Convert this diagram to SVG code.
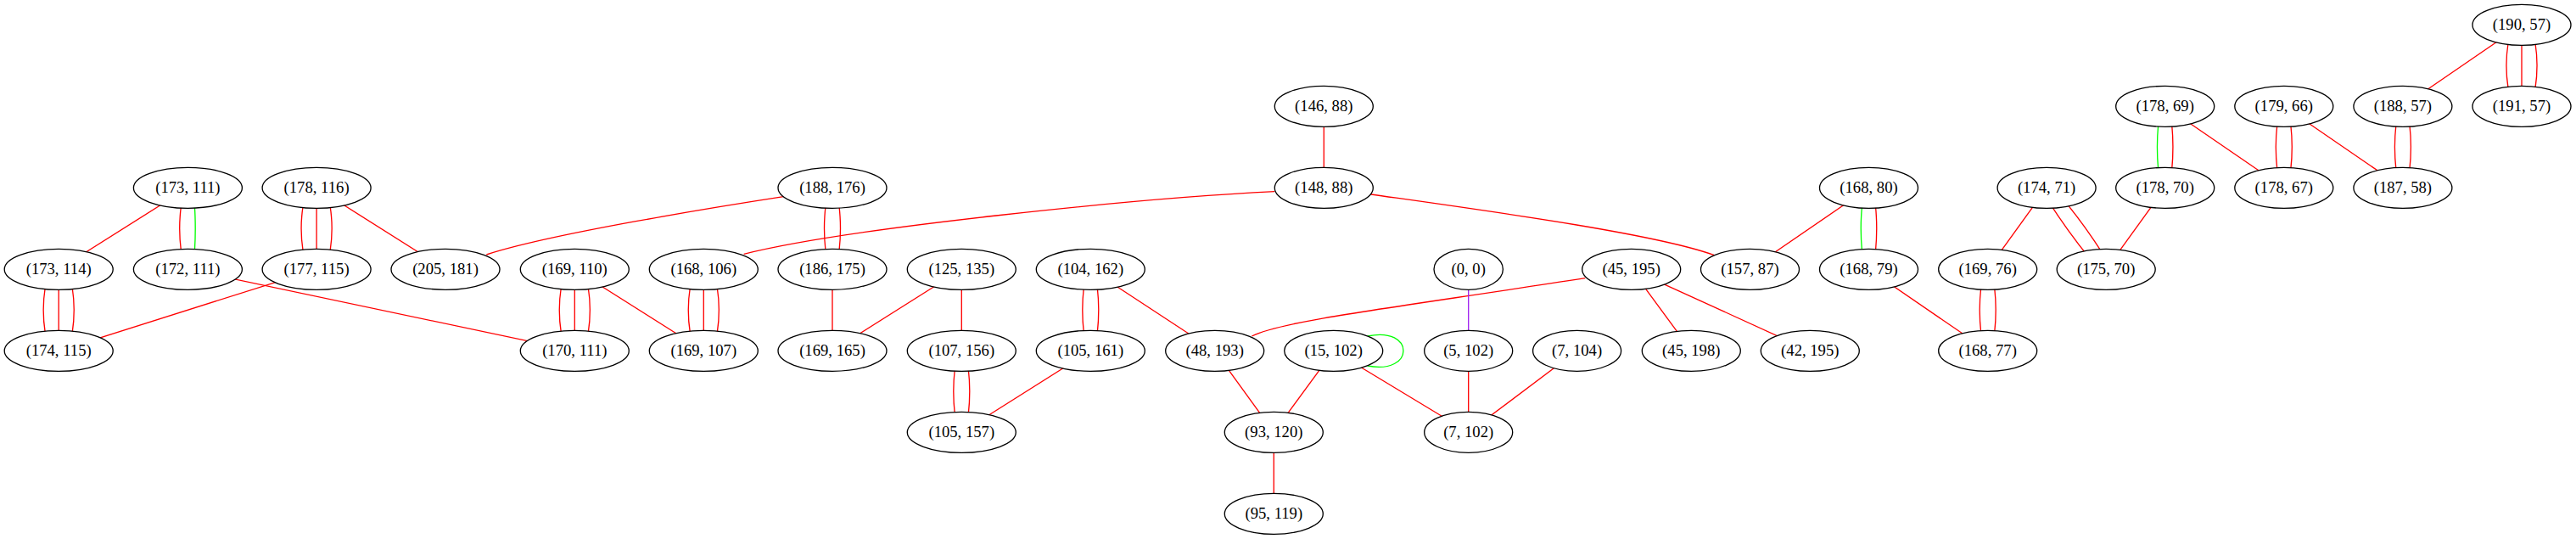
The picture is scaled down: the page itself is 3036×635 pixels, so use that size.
<svg xmlns="http://www.w3.org/2000/svg" width="3036" height="635" viewBox="0 0 3036 635">
<style>
.node ellipse{fill:#fff;stroke:#000;stroke-width:1.33}
.node text{font-family:"Liberation Serif","Times New Roman",serif;font-size:18.67px;text-anchor:middle;fill:#000}
#edges path,#edges line{fill:none;stroke:#f00;stroke-width:1.33}
#edges .g{stroke:#0f0}
#edges .p{stroke:#a020f0}
</style>
<rect width="3036" height="635" fill="#fff"/>
<g id="edges">
<line x1="221.4" y1="221.3" x2="69.2" y2="317.3"/>
<path d="M213.4,243 Q210,269.3 213.4,295.6"/>
<path class="g" d="M229.4,243 Q231,269.3 229.4,295.6"/>
<line x1="373.1" y1="221.3" x2="373.1" y2="317.3"/>
<path d="M357.1,243 Q353,269.3 357.1,295.6"/>
<path d="M389.1,243 Q393.2,269.3 389.1,295.6"/>
<line x1="373.1" y1="221.3" x2="525" y2="317.3"/>
<line x1="69.2" y1="317.3" x2="69.2" y2="413.3"/>
<path d="M53.2,339 Q49.1,365.3 53.2,391.6"/>
<path d="M85.2,339 Q89.3,365.3 85.2,391.6"/>
<line x1="221.4" y1="317.3" x2="677.3" y2="413.3"/>
<line x1="373.1" y1="317.3" x2="69.2" y2="413.3"/>
<path d="M923.3,231.7 C850,243 650,275 573.3,300"/>
<path d="M973,243 Q970,269.3 973,295.6"/>
<path d="M989,243 Q992,269.3 989,295.6"/>
<path d="M1502.2,225.7 C1350,233 1000,268 876.7,299.3"/>
<line x1="677.3" y1="317.3" x2="677.3" y2="413.3"/>
<path d="M661.3,339 Q657.2,365.3 661.3,391.6"/>
<path d="M693.3,339 Q697.4,365.3 693.3,391.6"/>
<line x1="677.3" y1="317.3" x2="829.3" y2="413.3"/>
<line x1="829.3" y1="317.3" x2="829.3" y2="413.3"/>
<path d="M813.3,339 Q809.2,365.3 813.3,391.6"/>
<path d="M845.3,339 Q849.4,365.3 845.3,391.6"/>
<line x1="981" y1="317.3" x2="981" y2="413.3"/>
<line x1="1133.3" y1="317.3" x2="981" y2="413.3"/>
<line x1="1133.3" y1="317.3" x2="1133.3" y2="413.3"/>
<path d="M1125.3,435 Q1122.3,461.3 1125.3,487.6"/>
<path d="M1141.3,435 Q1144.3,461.3 1141.3,487.6"/>
<path d="M1277.3,339 Q1274.3,365.3 1277.3,391.6"/>
<path d="M1293.3,339 Q1296.3,365.3 1293.3,391.6"/>
<line x1="1285.3" y1="317.3" x2="1431.7" y2="413.3"/>
<line x1="1285.3" y1="413.3" x2="1133.3" y2="509.3"/>
<line x1="1560.3" y1="125.3" x2="1560.3" y2="221.3"/>
<path d="M1616,229 C1750,248 1950,275 2020.5,300.7"/>
<path d="M1868.3,327.7 C1640,363 1510,378 1475.4,396"/>
<line x1="1922.7" y1="317.3" x2="1993.3" y2="413.3"/>
<line x1="1922.7" y1="317.3" x2="2133.3" y2="413.3"/>
<line x1="1431.7" y1="413.3" x2="1501.3" y2="509.3"/>
<line x1="1571.7" y1="413.3" x2="1501.3" y2="509.3"/>
<line x1="1571.7" y1="413.3" x2="1730.7" y2="509.3"/>
<path class="g" d="M1611.7,396 C1668,384 1668,442 1611.7,431"/>
<line class="p" x1="1730.7" y1="317.3" x2="1730.7" y2="413.3"/>
<line x1="1730.7" y1="413.3" x2="1730.7" y2="509.3"/>
<line x1="1858.6" y1="413.3" x2="1730.7" y2="509.3"/>
<line x1="1501.3" y1="509.3" x2="1501.3" y2="605.3"/>
<line x1="2202.5" y1="221.3" x2="2062.5" y2="317.3"/>
<path class="g" d="M2194.5,243 Q2192,269.3 2194.5,295.6"/>
<path d="M2210.5,243 Q2213,269.3 2210.5,295.6"/>
<line x1="2202.5" y1="317.3" x2="2342.7" y2="413.3"/>
<line x1="2412.1" y1="221.3" x2="2342.7" y2="317.3"/>
<path d="M2406.9,225.1 Q2437.8,276.1 2477,321.1"/>
<path d="M2417.3,217.5 Q2456.5,262.5 2487.4,313.5"/>
<line x1="2551.7" y1="221.3" x2="2482.2" y2="317.3"/>
<path class="g" d="M2543.7,147 Q2541.2,173.3 2543.7,199.6"/>
<path d="M2559.7,147 Q2562.2,173.3 2559.7,199.6"/>
<line x1="2551.7" y1="125.3" x2="2691.8" y2="221.3"/>
<path d="M2683.8,147 Q2680.8,173.3 2683.8,199.6"/>
<path d="M2699.8,147 Q2702.8,173.3 2699.8,199.6"/>
<line x1="2691.8" y1="125.3" x2="2831.9" y2="221.3"/>
<path d="M2823.9,147 Q2820.9,173.3 2823.9,199.6"/>
<path d="M2839.9,147 Q2842.9,173.3 2839.9,199.6"/>
<line x1="2972" y1="29.3" x2="2831.9" y2="125.3"/>
<line x1="2972" y1="29.3" x2="2972" y2="125.3"/>
<path d="M2956,51 Q2951.9,77.3 2956,103.6"/>
<path d="M2988,51 Q2992.1,77.3 2988,103.6"/>
<path d="M2334.7,339 Q2331.7,365.3 2334.7,391.6"/>
<path d="M2350.7,339 Q2353.7,365.3 2350.7,391.6"/>
</g>
<g id="n_190_57" class="node"><ellipse cx="2972" cy="29.3" rx="58" ry="24"/><text x="2972" y="34.8">(190, 57)</text></g>
<g id="n_146_88" class="node"><ellipse cx="1560.3" cy="125.3" rx="58" ry="24"/><text x="1560.3" y="130.8">(146, 88)</text></g>
<g id="n_178_69" class="node"><ellipse cx="2551.7" cy="125.3" rx="58" ry="24"/><text x="2551.7" y="130.8">(178, 69)</text></g>
<g id="n_179_66" class="node"><ellipse cx="2691.8" cy="125.3" rx="58" ry="24"/><text x="2691.8" y="130.8">(179, 66)</text></g>
<g id="n_188_57" class="node"><ellipse cx="2831.9" cy="125.3" rx="58" ry="24"/><text x="2831.9" y="130.8">(188, 57)</text></g>
<g id="n_191_57" class="node"><ellipse cx="2972" cy="125.3" rx="58" ry="24"/><text x="2972" y="130.8">(191, 57)</text></g>
<g id="n_173_111" class="node"><ellipse cx="221.4" cy="221.3" rx="64" ry="24"/><text x="221.4" y="226.8">(173, 111)</text></g>
<g id="n_178_116" class="node"><ellipse cx="373.1" cy="221.3" rx="64" ry="24"/><text x="373.1" y="226.8">(178, 116)</text></g>
<g id="n_188_176" class="node"><ellipse cx="981" cy="221.3" rx="64" ry="24"/><text x="981" y="226.8">(188, 176)</text></g>
<g id="n_148_88" class="node"><ellipse cx="1560.3" cy="221.3" rx="58" ry="24"/><text x="1560.3" y="226.8">(148, 88)</text></g>
<g id="n_168_80" class="node"><ellipse cx="2202.5" cy="221.3" rx="58" ry="24"/><text x="2202.5" y="226.8">(168, 80)</text></g>
<g id="n_174_71" class="node"><ellipse cx="2412.1" cy="221.3" rx="58" ry="24"/><text x="2412.1" y="226.8">(174, 71)</text></g>
<g id="n_178_70" class="node"><ellipse cx="2551.7" cy="221.3" rx="58" ry="24"/><text x="2551.7" y="226.8">(178, 70)</text></g>
<g id="n_178_67" class="node"><ellipse cx="2691.8" cy="221.3" rx="58" ry="24"/><text x="2691.8" y="226.8">(178, 67)</text></g>
<g id="n_187_58" class="node"><ellipse cx="2831.9" cy="221.3" rx="58" ry="24"/><text x="2831.9" y="226.8">(187, 58)</text></g>
<g id="n_173_114" class="node"><ellipse cx="69.2" cy="317.3" rx="64" ry="24"/><text x="69.2" y="322.8">(173, 114)</text></g>
<g id="n_172_111" class="node"><ellipse cx="221.4" cy="317.3" rx="64" ry="24"/><text x="221.4" y="322.8">(172, 111)</text></g>
<g id="n_177_115" class="node"><ellipse cx="373.1" cy="317.3" rx="64" ry="24"/><text x="373.1" y="322.8">(177, 115)</text></g>
<g id="n_205_181" class="node"><ellipse cx="525" cy="317.3" rx="64" ry="24"/><text x="525" y="322.8">(205, 181)</text></g>
<g id="n_169_110" class="node"><ellipse cx="677.3" cy="317.3" rx="64" ry="24"/><text x="677.3" y="322.8">(169, 110)</text></g>
<g id="n_168_106" class="node"><ellipse cx="829.3" cy="317.3" rx="64" ry="24"/><text x="829.3" y="322.8">(168, 106)</text></g>
<g id="n_186_175" class="node"><ellipse cx="981" cy="317.3" rx="64" ry="24"/><text x="981" y="322.8">(186, 175)</text></g>
<g id="n_125_135" class="node"><ellipse cx="1133.3" cy="317.3" rx="64" ry="24"/><text x="1133.3" y="322.8">(125, 135)</text></g>
<g id="n_104_162" class="node"><ellipse cx="1285.3" cy="317.3" rx="64" ry="24"/><text x="1285.3" y="322.8">(104, 162)</text></g>
<g id="n_0_0" class="node"><ellipse cx="1730.7" cy="317.3" rx="40.7" ry="24"/><text x="1730.7" y="322.8">(0, 0)</text></g>
<g id="n_45_195" class="node"><ellipse cx="1922.7" cy="317.3" rx="58" ry="24"/><text x="1922.7" y="322.8">(45, 195)</text></g>
<g id="n_157_87" class="node"><ellipse cx="2062.5" cy="317.3" rx="58" ry="24"/><text x="2062.5" y="322.8">(157, 87)</text></g>
<g id="n_168_79" class="node"><ellipse cx="2202.5" cy="317.3" rx="58" ry="24"/><text x="2202.5" y="322.8">(168, 79)</text></g>
<g id="n_169_76" class="node"><ellipse cx="2342.7" cy="317.3" rx="58" ry="24"/><text x="2342.7" y="322.8">(169, 76)</text></g>
<g id="n_175_70" class="node"><ellipse cx="2482.2" cy="317.3" rx="58" ry="24"/><text x="2482.2" y="322.8">(175, 70)</text></g>
<g id="n_174_115" class="node"><ellipse cx="69.2" cy="413.3" rx="64" ry="24"/><text x="69.2" y="418.8">(174, 115)</text></g>
<g id="n_170_111" class="node"><ellipse cx="677.3" cy="413.3" rx="64" ry="24"/><text x="677.3" y="418.8">(170, 111)</text></g>
<g id="n_169_107" class="node"><ellipse cx="829.3" cy="413.3" rx="64" ry="24"/><text x="829.3" y="418.8">(169, 107)</text></g>
<g id="n_169_165" class="node"><ellipse cx="981" cy="413.3" rx="64" ry="24"/><text x="981" y="418.8">(169, 165)</text></g>
<g id="n_107_156" class="node"><ellipse cx="1133.3" cy="413.3" rx="64" ry="24"/><text x="1133.3" y="418.8">(107, 156)</text></g>
<g id="n_105_161" class="node"><ellipse cx="1285.3" cy="413.3" rx="64" ry="24"/><text x="1285.3" y="418.8">(105, 161)</text></g>
<g id="n_48_193" class="node"><ellipse cx="1431.7" cy="413.3" rx="58" ry="24"/><text x="1431.7" y="418.8">(48, 193)</text></g>
<g id="n_15_102" class="node"><ellipse cx="1571.7" cy="413.3" rx="58" ry="24"/><text x="1571.7" y="418.8">(15, 102)</text></g>
<g id="n_5_102" class="node"><ellipse cx="1730.7" cy="413.3" rx="52" ry="24"/><text x="1730.7" y="418.8">(5, 102)</text></g>
<g id="n_7_104" class="node"><ellipse cx="1858.6" cy="413.3" rx="52" ry="24"/><text x="1858.6" y="418.8">(7, 104)</text></g>
<g id="n_45_198" class="node"><ellipse cx="1993.3" cy="413.3" rx="58" ry="24"/><text x="1993.3" y="418.8">(45, 198)</text></g>
<g id="n_42_195" class="node"><ellipse cx="2133.3" cy="413.3" rx="58" ry="24"/><text x="2133.3" y="418.8">(42, 195)</text></g>
<g id="n_168_77" class="node"><ellipse cx="2342.7" cy="413.3" rx="58" ry="24"/><text x="2342.7" y="418.8">(168, 77)</text></g>
<g id="n_105_157" class="node"><ellipse cx="1133.3" cy="509.3" rx="64" ry="24"/><text x="1133.3" y="514.8">(105, 157)</text></g>
<g id="n_93_120" class="node"><ellipse cx="1501.3" cy="509.3" rx="58" ry="24"/><text x="1501.3" y="514.8">(93, 120)</text></g>
<g id="n_7_102" class="node"><ellipse cx="1730.7" cy="509.3" rx="52" ry="24"/><text x="1730.7" y="514.8">(7, 102)</text></g>
<g id="n_95_119" class="node"><ellipse cx="1501.3" cy="605.3" rx="58" ry="24"/><text x="1501.3" y="610.8">(95, 119)</text></g>
</svg>
